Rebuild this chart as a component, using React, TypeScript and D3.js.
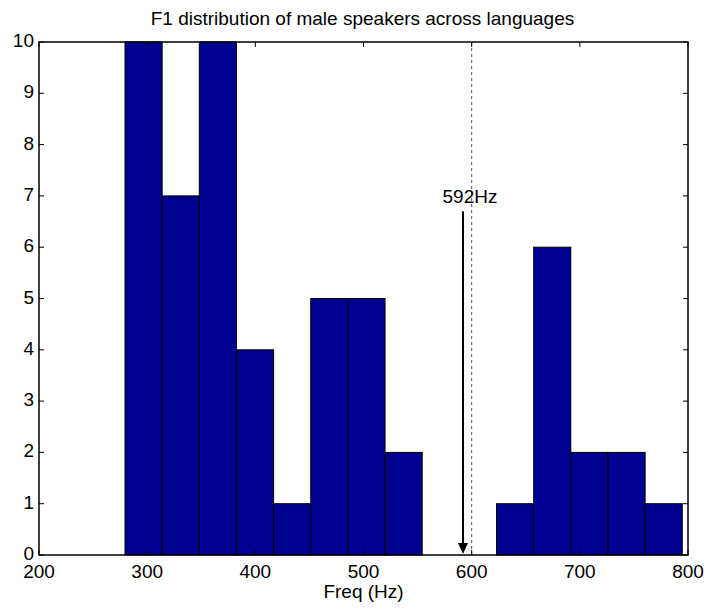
import React from "react";
import * as d3 from "d3";

const binStart = 279.5;
const binEnd = 794.7;
const counts = [10, 7, 10, 4, 1, 5, 5, 2, 0, 0, 1, 6, 2, 2, 1];
const xTicks = [200, 300, 400, 500, 600, 700, 800];
const yTicks = [0, 1, 2, 3, 4, 5, 6, 7, 8, 9, 10];
const markerValue = 592;
const dashedValue = 600;
const arrowTop = 6.7;
const title = "F1 distribution of male speakers across languages";
const xLabel = "Freq (Hz)";

const W = 707, H = 611;
const M = { left: 39, right: 688, top: 42, bottom: 555 };
const FONT = "Liberation Sans, Arial, Helvetica, sans-serif";
const FS = 19;

export default function App() {
  const x = d3.scaleLinear().domain([200, 800]).range([M.left, M.right]);
  const y = d3.scaleLinear().domain([0, 10]).range([M.bottom, M.top]);
  const bw = (binEnd - binStart) / counts.length;
  const bins = counts.map((c, i) => ({ x0: binStart + i * bw, x1: binStart + (i + 1) * bw, c }));
  const tl = 5;
  const ax = x(markerValue);
  return (
    <svg width={W} height={H} style={{ position: "absolute", left: 0, top: 0, background: "#fff" }} fontFamily={FONT}>
      <rect x={0} y={0} width={W} height={H} fill="#fff" />
      {bins.map((b, i) => (
        <rect key={i} x={x(b.x0)} y={y(b.c)} width={x(b.x1) - x(b.x0)} height={y(0) - y(b.c)}
          fill="#000090" stroke="#000" strokeWidth={1} />
      ))}
      <line x1={x(dashedValue)} x2={x(dashedValue)} y1={M.top} y2={M.bottom} stroke="#555" strokeWidth={1} strokeDasharray="3,3" />
      <line x1={ax} x2={ax} y1={y(arrowTop)} y2={M.bottom - 10} stroke="#000" strokeWidth={2} />
      <path d={`M${ax - 5},${M.bottom - 12} L${ax + 5},${M.bottom - 12} L${ax},${M.bottom - 1} Z`} fill="#000" />
      <text x={ax + 7} y={y(arrowTop) - 8} textAnchor="middle" fontSize={FS} fill="#000">{markerValue}Hz</text>
      <rect x={M.left} y={M.top} width={M.right - M.left} height={M.bottom - M.top} fill="none" stroke="#000" strokeWidth={1.5} />
      {xTicks.map((t) => (
        <g key={t}>
          <line x1={x(t)} x2={x(t)} y1={M.bottom} y2={M.bottom - tl} stroke="#000" />
          <line x1={x(t)} x2={x(t)} y1={M.top} y2={M.top + tl} stroke="#000" />
          <text x={x(t)} y={M.bottom + 23} textAnchor="middle" fontSize={FS} fill="#000">{t}</text>
        </g>
      ))}
      {yTicks.map((t) => (
        <g key={t}>
          <line x1={M.left} x2={M.left + tl} y1={y(t)} y2={y(t)} stroke="#000" />
          <line x1={M.right} x2={M.right - tl} y1={y(t)} y2={y(t)} stroke="#000" />
          <text x={M.left - 5} y={y(t) + 5} textAnchor="end" fontSize={FS} fill="#000">{t}</text>
        </g>
      ))}
      <text x={(M.left + M.right) / 2 - 1} y={25} textAnchor="middle" fontSize={FS} fill="#000">{title}</text>
      <text x={(M.left + M.right) / 2} y={598} textAnchor="middle" fontSize={FS} fill="#000">{xLabel}</text>
    </svg>
  );
}
